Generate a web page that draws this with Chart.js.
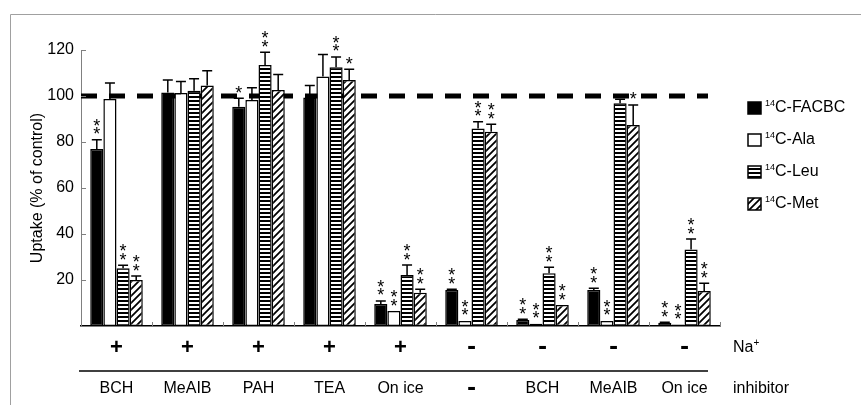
<!DOCTYPE html>
<html>
<head>
<meta charset="utf-8">
<script src="https://cdn.jsdelivr.net/npm/chart.js@4/dist/chart.umd.min.js"></script>
<style>
  html, body { margin: 0; padding: 0; background: #fff; }
  #wrap { width: 861px; height: 405px; }
</style>
</head>
<body>
<div id="wrap"><canvas id="chart" width="861" height="405"></canvas></div>
<script>
// groups along the x axis
const inhibitors = ["BCH", "MeAIB", "PAH", "TEA", "On ice", "-", "BCH", "MeAIB", "On ice"];
const sodium = ["+", "+", "+", "+", "+", "-", "-", "-", "-"];
const yTicks = [20, 40, 60, 80, 100, 120];

// uptake (% of control), upper error, and number of asterisks
const facbc = [77, 101.5, 95.3, 99.3, 9.6, 15.7, 2.6, 15.7, 1.4];
const facbcErr = [4, 5.5, 3.7, 5.3, 1.3, 0.3, 0.3, 0.7, 0.2];
const facbcStars = [2, 0, 1, 0, 2, 2, 2, 2, 2];

const ala = [98.7, 101.3, 98.3, 108.5, 6.5, 2.2, 1, 2.2, 0.6];
const alaErr = [7, 5, 5.3, 9.5, 0, 0, 0, 0, 0];
const alaStars = [0, 0, 0, 0, 2, 2, 2, 2, 2];

const leu = [25.1, 102.3, 113.5, 112.5, 22.2, 85.9, 22.9, 96.8, 33.3];
const leuErr = [1.3, 5.2, 5.5, 4.5, 4.3, 2.9, 2.6, 1.8, 4.5];
const leuStars = [2, 0, 2, 2, 2, 2, 2, 0, 2];

const met = [20, 104.6, 102.6, 107, 14.5, 84.5, 9.1, 87.4, 15.2];
const metErr = [1.7, 6.4, 6.7, 4.6, 1.5, 3.2, 0, 8.7, 3.4];
const metStars = [2, 0, 0, 1, 2, 2, 2, 1, 2];

const seriesNames = ["FACBC", "Ala", "Leu", "Met"];
const FONT = "'Liberation Sans', Arial, sans-serif";

function stripePattern() {
  const c = document.createElement("canvas");
  c.width = 4; c.height = 4;
  const g = c.getContext("2d");
  g.fillStyle = "#fff"; g.fillRect(0, 0, 4, 4);
  g.fillStyle = "#000"; g.fillRect(0, 0, 4, 2);
  return g.createPattern(c, "repeat");
}

function hatchPattern() {
  const s = 7;
  const c = document.createElement("canvas");
  c.width = s; c.height = s;
  const g = c.getContext("2d");
  g.fillStyle = "#fff"; g.fillRect(0, 0, s, s);
  g.strokeStyle = "#000"; g.lineWidth = 1.8;
  g.beginPath();
  g.moveTo(-1, s + 1); g.lineTo(s + 1, -1);
  g.moveTo(-2, 2); g.lineTo(2, -2);
  g.moveTo(s - 2, s + 2); g.lineTo(s + 2, s - 2);
  g.stroke();
  return g.createPattern(c, "repeat");
}

const fills = ["#000", "#fff", stripePattern(), hatchPattern()];
const errs = [facbcErr, alaErr, leuErr, metErr];
const stars = [facbcStars, alaStars, leuStars, metStars];

const refLine = {
  id: "refLine",
  beforeDatasetsDraw(chart) {
    const { ctx, scales: { y } } = chart;
    const py = y.getPixelForValue(100);
    ctx.save();
    ctx.strokeStyle = "#000";
    ctx.lineWidth = 5;
    ctx.setLineDash([16, 12]);
    ctx.beginPath();
    ctx.moveTo(chart.chartArea.left, py);
    ctx.lineTo(708, py);
    ctx.stroke();
    ctx.restore();
  }
};

const errorBars = {
  id: "errorBars",
  afterDatasetsDraw(chart) {
    const { ctx, scales: { y } } = chart;
    ctx.save();
    ctx.strokeStyle = "#000";
    ctx.lineWidth = 1.5;
    ctx.fillStyle = "#000";
    ctx.font = "18px " + FONT;
    ctx.textAlign = "center";
    ctx.textBaseline = "alphabetic";
    const m = ctx.measureText("*");
    const mid = (m.actualBoundingBoxAscent - m.actualBoundingBoxDescent) / 2;
    chart.data.datasets.forEach((ds, di) => {
      chart.getDatasetMeta(di).data.forEach((bar, i) => {
        const v = ds.data[i];
        const e = errs[di][i];
        let top = y.getPixelForValue(v);
        if (e > 0) {
          const ey = y.getPixelForValue(v + e);
          ctx.beginPath();
          ctx.moveTo(bar.x, top);
          ctx.lineTo(bar.x, ey);
          ctx.moveTo(bar.x - 5, ey);
          ctx.lineTo(bar.x + 5, ey);
          ctx.stroke();
          top = ey;
        }
        for (let k = 0; k < stars[di][i]; k++) {
          const cy = top - 9 - 8.5 * k;
          ctx.fillText("*", bar.x, cy + mid);
        }
      });
    });
    ctx.restore();
  }
};

const decorations = {
  id: "decorations",
  afterDraw(chart) {
    const { ctx, chartArea: a, scales: { x, y } } = chart;
    ctx.save();

    // frame
    ctx.strokeStyle = "#a0a0a0";
    ctx.lineWidth = 1;
    ctx.beginPath();
    ctx.moveTo(10.5, 405);
    ctx.lineTo(10.5, 14.5);
    ctx.lineTo(861, 14.5);
    ctx.stroke();

    // inward ticks
    ctx.strokeStyle = "#808080";
    ctx.beginPath();
    yTicks.forEach(t => {
      const py = Math.round(y.getPixelForValue(t)) + 0.5;
      ctx.moveTo(a.left, py);
      ctx.lineTo(a.left + 5, py);
    });
    for (let i = 1; i <= inhibitors.length; i++) {
      const px = Math.round(a.left + (a.right - a.left) * i / inhibitors.length) + 0.5;
      ctx.moveTo(px, a.bottom);
      ctx.lineTo(px, a.bottom - 4);
    }
    ctx.stroke();

    // condition rows
    ctx.fillStyle = "#000";
    ctx.textAlign = "center";
    ctx.textBaseline = "middle";
    const dashFont = "bold 22px 'DejaVu Sans', sans-serif";
    inhibitors.forEach((lab, i) => {
      const px = x.getPixelForValue(i);
      ctx.font = sodium[i] === "-" ? dashFont : "bold 22px " + FONT;
      ctx.fillText(sodium[i], px, 348);
      if (lab === "-") {
        ctx.font = dashFont;
        ctx.fillText("-", px, 389);
      } else {
        ctx.font = "16px " + FONT;
        ctx.fillText(lab, px, 389);
      }
    });
    ctx.strokeStyle = "#000";
    ctx.lineWidth = 1.5;
    ctx.beginPath();
    ctx.moveTo(79, 371);
    ctx.lineTo(708, 371);
    ctx.stroke();

    ctx.textAlign = "left";
    ctx.font = "16px " + FONT;
    ctx.fillText("Na", 733, 348);
    const naW = ctx.measureText("Na").width;
    ctx.font = "10px " + FONT;
    ctx.fillText("+", 733 + naW, 343);
    ctx.font = "16px " + FONT;
    ctx.fillText("inhibitor", 733, 389);

    // legend
    seriesNames.forEach((name, i) => {
      const cy = 108 + 32 * i;
      ctx.fillStyle = fills[i];
      ctx.fillRect(748, cy - 6, 13, 12);
      ctx.strokeStyle = "#000";
      ctx.lineWidth = 1.5;
      ctx.strokeRect(748, cy - 6, 13, 12);
      ctx.fillStyle = "#000";
      ctx.font = "9px " + FONT;
      ctx.fillText("14", 765, cy - 4);
      ctx.font = "16px " + FONT;
      ctx.fillText("C-" + name, 775, cy);
    });

    ctx.restore();
  }
};

new Chart(document.getElementById("chart"), {
  type: "bar",
  data: {
    labels: inhibitors.map((lab, i) => sodium[i] + " " + lab),
    datasets: seriesNames.map((name, i) => ({
      label: "14C-" + name,
      data: [facbc, ala, leu, met][i],
      backgroundColor: fills[i],
      borderColor: "#000",
      borderWidth: 1.5,
      borderSkipped: false,
      categoryPercentage: 0.74,
      barPercentage: 1
    }))
  },
  options: {
    responsive: false,
    animation: false,
    devicePixelRatio: 1,
    layout: { padding: { top: 50, left: 22, right: 141, bottom: 79 } },
    plugins: { legend: { display: false }, tooltip: { enabled: false } },
    scales: {
      x: {
        offset: true,
        grid: { display: false },
        border: { color: "#000", width: 1.5 },
        ticks: { display: false },
        afterFit: s => { s.height = 0; }
      },
      y: {
        min: 0,
        max: 120,
        grid: { display: false, drawTicks: false },
        border: { color: "#808080", width: 1 },
        ticks: {
          stepSize: 20,
          padding: 7,
          color: "#000",
          font: { size: 16, family: FONT },
          callback: v => (v === 0 ? "" : v)
        },
        title: {
          display: true,
          text: "Uptake (% of control)",
          color: "#000",
          font: { size: 16, family: FONT },
          padding: { top: 6, bottom: 0 }
        },
        afterFit: s => { s.width = 59; }
      }
    }
  },
  plugins: [refLine, errorBars, decorations]
});
</script>
</body>
</html>
